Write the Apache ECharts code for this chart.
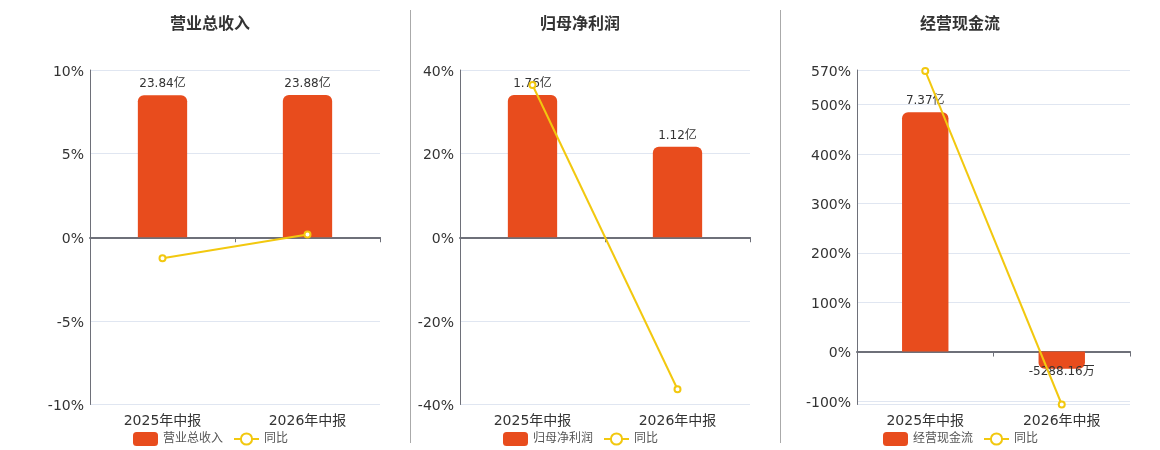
<!DOCTYPE html>
<html>
<head>
<meta charset="utf-8">
<script src="https://cdn.jsdelivr.net/npm/echarts@6/dist/echarts.min.js"></script>
<style>html,body{margin:0;padding:0;background:#fff;}#c{width:1160px;height:450px;}</style>
</head>
<body>
<div id="c"></div>
<script>
var categories = ['2025年中报', '2026年中报'];
var titles = ['营业总收入', '归母净利润', '经营现金流'];
// bar values in 亿
var revenue = [23.84, 23.88];
var netProfit = [1.76, 1.12];
var cashFlow = [7.37, -0.528816];
// bar labels
var revenueLabels = ['23.84亿', '23.88亿'];
var netProfitLabels = ['1.76亿', '1.12亿'];
var cashFlowLabels = ['7.37亿', '-5288.16万'];
// YoY %
var revenueYoY = [-1.25, 0.17];
var netProfitYoY = [36.4, -36.36];
var cashFlowYoY = [568, -107.17];
// percent axis ranges and tick values
var pctMin = [-10, -40, -107.17];
var pctMax = [10, 40, 570];
var pctTicks = [
  [-10, -5, 0, 5, 10],
  [-40, -20, 0, 20, 40],
  [-100, 0, 100, 200, 300, 400, 500, 570]
];
var pctGridLines = [
  [-10, -5, 0, 5, 10],
  [-40, -20, 0, 20, 40],
  [-107.17, -100, 0, 100, 200, 300, 400, 500, 570]
];
// hidden bar axis ranges (zero aligned)
var barMax = [28.06, 2.07, 8.67];

var FONT = 'DejaVu Sans, Noto Sans CJK SC, sans-serif';
var BAR_COLOR = '#E84C1D';
var LINE_COLOR = '#F2C80F';

var barData = [revenue, netProfit, cashFlow];
var barLabels = [revenueLabels, netProfitLabels, cashFlowLabels];
var yoyData = [revenueYoY, netProfitYoY, cashFlowYoY];

var grids = [
  {left: 90, width: 290, top: 70, height: 334.5},
  {left: 460, width: 290, top: 70, height: 334.5},
  {left: 857, width: 273, top: 70, height: 334.5}
];
var titleX = [205, 575, 955];
var legendLeft = [128, 498, 878];

var option = {
  animation: false,
  backgroundColor: '#fff',
  title: titles.map(function (t, i) {
    return {text: t, left: titleX[i], top: 12, textAlign: 'center',
      textStyle: {fontSize: 16, fontWeight: 'bold', color: '#333', fontFamily: FONT}};
  }),
  legend: titles.map(function (t, i) {
    return {
      data: [{name: t, icon: 'roundRect'}, {name: '同比'}],
      left: legendLeft[i], top: 427,
      itemWidth: 25, itemHeight: 14, itemGap: 10,
      textStyle: {fontSize: 12, color: '#555', fontFamily: FONT},
      selectedMode: false
    };
  }),
  grid: grids,
  xAxis: grids.map(function (g, i) {
    return {
      type: 'category', gridIndex: i, data: categories,
      axisLine: {onZero: true, lineStyle: {color: '#6E7079', width: 2}},
      axisTick: {show: true, lineStyle: {color: '#6E7079'}},
      axisLabel: {show: false}
    };
  }).concat(grids.map(function (g, i) {
    return {
      type: 'category', gridIndex: i, data: categories, position: 'bottom',
      axisLine: {show: false}, axisTick: {show: false},
      axisLabel: {fontSize: 14, color: '#333', fontFamily: FONT, margin: 10}
    };
  })),
  yAxis: [],
  series: []
};

for (var i = 0; i < 3; i++) {
  option.yAxis.push({
    type: 'value', gridIndex: i, min: pctMin[i], max: pctMax[i],
    axisLine: {show: true, lineStyle: {color: '#6E7079'}},
    axisTick: {show: false, customValues: pctGridLines[i]},
    splitLine: {show: true, lineStyle: {color: '#E0E6F1'}},
    axisLabel: {customValues: pctTicks[i], formatter: '{value}%', fontSize: 14, color: '#333',
      fontFamily: FONT, margin: 6, verticalAlign: 'top', lineHeight: 4}
  });
}
for (var i = 0; i < 3; i++) {
  var mn = -barMax[i] * (-pctMin[i]) / pctMax[i];
  option.yAxis.push({
    type: 'value', gridIndex: i, min: mn, max: barMax[i], show: false,
    splitLine: {show: false}
  });
}

for (var i = 0; i < 3; i++) {
  (function (i) {
    option.series.push({
      name: titles[i], type: 'bar', xAxisIndex: i, yAxisIndex: 3 + i,
      barWidth: '34%',
      itemStyle: {color: BAR_COLOR},
      data: barData[i].map(function (v, k) {
        return {
          value: v,
          itemStyle: {borderRadius: v >= 0 ? [6, 6, 0, 0] : [0, 0, 6, 6]},
          label: {show: true, position: v >= 0 ? 'top' : 'bottom', formatter: barLabels[i][k],
            fontSize: 12, color: '#333', fontFamily: FONT, distance: v >= 0 ? 5 : -3}
        };
      })
    });
    option.series.push({
      name: '同比', type: 'line', xAxisIndex: i, yAxisIndex: i,
      symbol: 'emptyCircle', symbolSize: 6, z: 5,
      lineStyle: {color: LINE_COLOR, width: 2},
      itemStyle: {color: LINE_COLOR, borderWidth: 1.5},
      data: yoyData[i]
    });
  })(i);
}

option.graphic = [
  {type: 'line', shape: {x1: 410.5, y1: 10, x2: 410.5, y2: 443}, style: {stroke: '#AAAAAA', lineWidth: 1}},
  {type: 'line', shape: {x1: 780.5, y1: 10, x2: 780.5, y2: 443}, style: {stroke: '#AAAAAA', lineWidth: 1}}
];

var chart = echarts.init(document.getElementById('c'));
chart.setOption(option);
</script>
</body>
</html>
